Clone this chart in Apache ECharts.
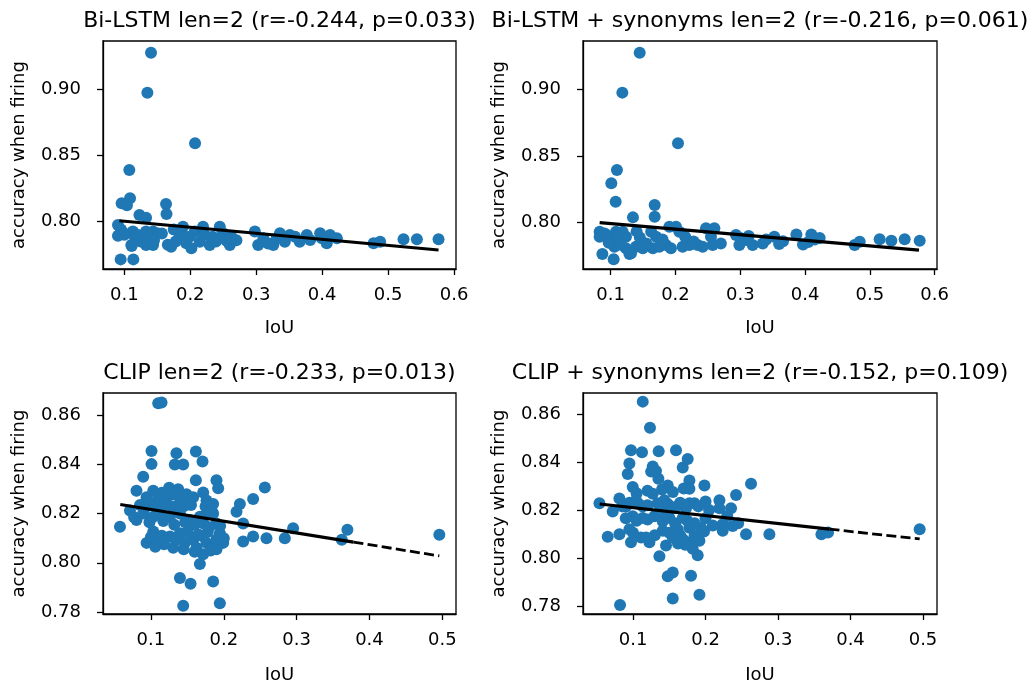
<!DOCTYPE html>
<html>
<head>
<meta charset="utf-8">
<script src="https://cdn.jsdelivr.net/npm/echarts@6/dist/echarts.min.js"></script>
<style>
html,body{margin:0;padding:0;background:#fff;}
#chart{width:1034px;height:685px;}
</style>
</head>
<body>
<div id="chart"></div>
<script>
// ---------- data ----------
const titles = [
  'Bi-LSTM len=2 (r=-0.244, p=0.033)',
  'Bi-LSTM + synonyms len=2 (r=-0.216, p=0.061)',
  'CLIP len=2 (r=-0.233, p=0.013)',
  'CLIP + synonyms len=2 (r=-0.152, p=0.109)'
];
const xName = 'IoU';
const yName = 'accuracy when firing';

const xTicksTop = [0.1, 0.2, 0.3, 0.4, 0.5, 0.6];
const yTicksTop = [0.80, 0.85, 0.90];
const xTicksBottom = [0.1, 0.2, 0.3, 0.4, 0.5];
const yTicksBottom = [0.78, 0.80, 0.82, 0.84, 0.86];

// Panel 1: Bi-LSTM
const bilstmX = [0.1405,0.135,0.2073,0.1076,0.1087,0.096,0.104,0.1633,0.164,0.123,0.133,0.0904,0.0904,0.113,0.116,0.1107,0.133,0.1436,0.133,0.1436,0.1386,0.166,0.171,0.189,0.189,0.194,0.2017,0.199,0.2068,0.2144,0.2194,0.2296,0.2448,0.2498,0.26,0.2624,0.234,0.298,0.303,0.311,0.318,0.326,0.331,0.3434,0.351,0.366,0.3768,0.3819,0.397,0.3996,0.407,0.412,0.4223,0.478,0.488,0.5234,0.5437,0.5765,0.0945,0.1137,0.1112,0.095,0.1,0.152,0.175,0.336,0.359,0.1,0.125,0.12,0.145,0.157,0.178,0.182,0.222,0.239,0.255,0.27];
const bilstmY = [0.9277,0.8973,0.859,0.8387,0.8172,0.8134,0.812,0.8129,0.8053,0.8046,0.8025,0.797,0.7888,0.792,0.788,0.7818,0.792,0.792,0.7818,0.7818,0.7869,0.782,0.7805,0.7957,0.7894,0.7831,0.7793,0.7881,0.792,0.7843,0.7957,0.7818,0.7957,0.7907,0.7818,0.7881,0.7881,0.792,0.7818,0.7869,0.783,0.7818,0.7869,0.7843,0.7894,0.7843,0.7894,0.7856,0.7907,0.7869,0.7831,0.7894,0.7869,0.7831,0.7843,0.7861,0.7861,0.7861,0.7709,0.7709,0.781,0.7935,0.7905,0.7905,0.7935,0.7907,0.788,0.7895,0.7845,0.7895,0.7855,0.7905,0.7845,0.792,0.7895,0.7845,0.785,0.7855];
const bilstmFitX = [0.0925, 0.5765];
const bilstmFitY = [0.8002, 0.7780];

// Panel 2: Bi-LSTM + synonyms
const bilstmSynX = [0.1448,0.118,0.2039,0.1097,0.101,0.1077,0.1344,0.1679,0.1679,0.083,0.083,0.0907,0.0872,0.1046,0.129,0.1005,0.1082,0.1134,0.1185,0.1236,0.1057,0.1236,0.1314,0.139,0.1496,0.1651,0.1625,0.1751,0.1853,0.1906,0.193,0.2008,0.206,0.211,0.2215,0.2343,0.242,0.2471,0.26,0.2574,0.2548,0.2934,0.2986,0.3088,0.3191,0.3346,0.3526,0.366,0.3866,0.3968,0.4097,0.4225,0.4765,0.4843,0.5151,0.5332,0.5537,0.5769,0.0928,0.1113,0.145,0.155,0.17,0.18,0.215,0.228,0.27,0.3,0.313,0.34,0.36,0.405,0.415,0.097,0.115,0.14];
const bilstmSynY = [0.9274,0.8975,0.8595,0.8395,0.8295,0.8157,0.804,0.8133,0.8045,0.7933,0.7895,0.792,0.7765,0.7726,0.7765,0.7895,0.7933,0.787,0.7933,0.7895,0.782,0.7808,0.7771,0.782,0.7808,0.7808,0.7933,0.782,0.7833,0.797,0.7808,0.797,0.7933,0.782,0.7833,0.7833,0.782,0.7958,0.7958,0.7833,0.7895,0.7908,0.7833,0.787,0.7833,0.7845,0.7895,0.7861,0.7911,0.7836,0.7911,0.7886,0.7833,0.7858,0.7876,0.7865,0.7876,0.7865,0.7908,0.7895,0.789,0.7845,0.7895,0.7875,0.7895,0.786,0.7845,0.7885,0.79,0.7875,0.784,0.7855,0.7875,0.785,0.7835,0.7935];
const bilstmSynFitX = [0.083, 0.5758];
const bilstmSynFitY = [0.8000, 0.7795];

// Panel 3: CLIP
const clipX = [0.11,0.1146,0.1008,0.1008,0.0894,0.135,0.1328,0.1443,0.1617,0.1708,0.1617,0.19,0.1923,0.2564,0.2403,0.2221,0.2175,0.0575,
  0.0802,0.094,0.1032,0.11,0.1214,0.1306,0.1374,0.1398,0.1488,0.158,0.1717,0.1763,0.1854,
  0.0712,0.0802,0.0894,0.1032,0.1124,0.1261,0.1398,0.1535,0.1672,0.1763,0.1854,0.19,
  0.094,0.1032,0.11,0.1261,0.1306,0.1398,0.1466,0.158,0.1626,0.1717,0.1763,0.1854,0.1946,0.1992,0.1717,
  0.1672,0.1398,0.1544,0.1854,0.1443,0.1946,
  0.2266,0.2266,0.2403,0.2586,0.2838,0.2952,0.362,0.3697,0.4959,
  0.085,0.097,0.107,0.118,0.128,0.135,0.145,0.155,0.175,0.182,
  0.077,0.098,0.117,0.132,0.147,0.16,0.172,0.18,0.195,
  0.1,0.115,0.135,0.15,0.165,0.178,0.19,0.2,
  0.118,0.145,0.16,0.182,0.19,0.115,0.125,0.145,0.092,0.106];
const clipY = [0.8648,0.8651,0.8454,0.8401,0.835,0.8445,0.8399,0.8399,0.8452,0.8412,0.8335,0.8335,0.8303,0.8306,0.8259,0.8239,0.8207,0.8147,
  0.8293,0.8266,0.8293,0.8266,0.8266,0.8279,0.8299,0.8246,0.8279,0.8266,0.8286,0.8253,0.8239,
  0.8213,0.8174,0.82,0.8187,0.8207,0.8187,0.82,0.8174,0.8187,0.82,0.82,0.816,
  0.8081,0.8127,0.8081,0.8107,0.8061,0.812,0.8081,0.8094,0.8061,0.8107,0.8081,0.8067,0.812,0.8081,0.8035,
  0.7995,0.7938,0.7915,0.7924,0.7826,0.7836,
  0.816,0.8087,0.8107,0.81,0.81,0.814,0.8094,0.8134,0.8114,
  0.8235,0.8245,0.823,0.8235,0.823,0.8225,0.823,0.8235,0.823,0.8215,
  0.8185,0.8165,0.817,0.8155,0.8165,0.8155,0.816,0.8145,0.815,
  0.8105,0.811,0.8095,0.8125,0.8115,0.8125,0.8095,0.81,
  0.8075,0.8055,0.8045,0.805,0.8055,0.8285,0.8305,0.827,0.8225,0.8065];
const clipFitX = [0.0579, 0.378, 0.4959];
const clipFitY = [0.8237, 0.8084, 0.8028];

// Panel 4: CLIP + synonyms
const clipSynX = [0.1134,0.1234,0.0972,0.1124,0.1354,0.1593,0.1754,0.095,0.0927,0.1272,0.1317,0.1686,0.0996,0.1479,0.1778,0.1778,0.1985,0.2628,0.2421,0.0537,
  0.072,0.0812,0.0903,0.1041,0.1134,0.1272,0.134,0.1433,0.1548,0.1731,0.1778,0.1847,0.2192,0.2192,0.2352,
  0.0996,0.1134,0.1295,0.141,0.1502,0.1686,0.1778,0.1938,0.2237,0.2375,
  0.0651,0.0812,0.095,0.0972,0.111,0.1226,0.141,0.1455,0.1548,0.1617,0.1686,0.1778,0.1916,0.2237,0.2559,0.2881,
  0.1823,0.1892,0.1364,0.1479,0.1548,0.18,0.1548,0.1916,0.0821,
  0.3599,0.369,0.4954,
  0.085,0.095,0.108,0.12,0.138,0.148,0.16,0.165,0.19,0.205,
  0.09,0.105,0.12,0.145,0.158,0.175,0.185,0.2,0.21,
  0.1,0.13,0.15,0.165,0.185,0.198,0.118,0.172,0.162,
  0.105,0.12,0.14,0.155,0.17,0.2,0.23,0.245,0.125,0.135];
const clipSynY = [0.8652,0.8543,0.8449,0.8441,0.8445,0.8449,0.8413,0.8394,0.835,0.8381,0.8363,0.8377,0.8296,0.8302,0.8323,0.8289,0.8302,0.8309,0.8262,0.8228,
  0.8194,0.8248,0.8214,0.8241,0.8214,0.8268,0.8228,0.8241,0.8207,0.8207,0.8228,0.8228,0.8241,0.8207,0.8207,
  0.8174,0.8167,0.8174,0.8153,0.8167,0.8167,0.8126,0.8126,0.814,0.8133,
  0.8088,0.8099,0.812,0.8065,0.8085,0.8065,0.8113,0.8052,0.8085,0.812,0.8079,0.8065,0.8072,0.8113,0.8099,0.8099,
  0.8038,0.8011,0.8007,0.7923,0.7939,0.7926,0.7831,0.7846,0.7804,
  0.8099,0.8106,0.812,
  0.8215,0.823,0.8225,0.822,0.821,0.8225,0.8215,0.823,0.8215,0.82,
  0.8165,0.8155,0.816,0.8185,0.8145,0.8155,0.8145,0.8165,0.8135,
  0.8105,0.8095,0.8105,0.8095,0.8095,0.811,0.8085,0.8055,0.806,
  0.827,0.828,0.8285,0.8275,0.829,0.8235,0.8175,0.8145,0.836,0.833];
const clipSynFitX = [0.054, 0.371, 0.4954];
const clipSynFitY = [0.8225, 0.8120, 0.8079];

// ---------- layout / styling ----------
const FONT = 'DejaVu Sans';
const BLUE = '#1f77b4';
const panels = [
  {title: titles[0], x: bilstmX, y: bilstmY, fx: bilstmFitX, fy: bilstmFitY, xt: xTicksTop, yt: yTicksTop,
   rect: {left: 103, top: 41, width: 353, height: 228}, xr: [0.0677, 0.603], yr: [0.7636, 0.9366], ty: 10, ng: 50},
  {title: titles[1], x: bilstmSynX, y: bilstmSynY, fx: bilstmSynFitX, fy: bilstmSynFitY, xt: xTicksTop, yt: yTicksTop,
   rect: {left: 583, top: 41, width: 354, height: 228}, xr: [0.0573, 0.6036], yr: [0.7653, 0.9362], ty: 10, ng: 50},
  {title: titles[2], x: clipX, y: clipY, fx: clipFitX, fy: clipFitY, xt: xTicksBottom, yt: yTicksBottom,
   rect: {left: 103, top: 393, width: 353, height: 226}, xr: [0.0342, 0.5188], yr: [0.7792, 0.869], ty: 362, ng: 52},
  {title: titles[3], x: clipSynX, y: clipSynY, fx: clipSynFitX, fy: clipSynFitY, xt: xTicksBottom, yt: yTicksBottom,
   rect: {left: 583, top: 393, width: 354, height: 226}, xr: [0.031, 0.5193], yr: [0.7766, 0.8688], ty: 362, ng: 52}
];

const axisColor = '#000';
const grids = [], xAxes = [], yAxes = [], series = [], titleOpts = [];
panels.forEach((p, i) => {
  grids.push(Object.assign({show: true, borderColor: axisColor, borderWidth: 1.3, backgroundColor: 'transparent'}, p.rect));
  titleOpts.push({
    text: p.title, left: p.rect.left + p.rect.width / 2, top: p.ty, textAlign: 'center', padding: 0,
    textStyle: {fontFamily: FONT, fontSize: 22, fontWeight: 'normal', color: '#000'}
  });
  xAxes.push({
    gridIndex: i, type: 'value', min: p.xr[0], max: p.xr[1],
    axisLine: {show: true, onZero: false, lineStyle: {color: axisColor, width: 1.3}},
    axisTick: {show: true, customValues: p.xt, length: 6, lineStyle: {color: axisColor, width: 1.3}},
    axisLabel: {customValues: p.xt, formatter: v => v.toFixed(1), color: '#000', fontFamily: FONT, fontSize: 18, margin: 17},
    splitLine: {show: false},
    name: xName, nameLocation: 'middle', nameGap: p.ng,
    nameTextStyle: {fontFamily: FONT, fontSize: 18, color: '#000'}
  });
  yAxes.push({
    gridIndex: i, type: 'value', min: p.yr[0], max: p.yr[1],
    axisLine: {show: true, onZero: false, lineStyle: {color: axisColor, width: 1.3}},
    axisTick: {show: true, customValues: p.yt, length: 6, lineStyle: {color: axisColor, width: 1.3}},
    axisLabel: {customValues: p.yt, formatter: v => v.toFixed(2), color: '#000', fontFamily: FONT, fontSize: 18, margin: 22},
    splitLine: {show: false},
    name: yName, nameLocation: 'middle', nameGap: 75,
    nameTextStyle: {fontFamily: FONT, fontSize: 18, color: '#000'}
  });
  series.push({
    type: 'scatter', xAxisIndex: i, yAxisIndex: i,
    data: p.x.map((v, k) => [v, p.y[k]]),
    symbol: 'circle', symbolSize: 12, itemStyle: {color: BLUE, opacity: 1}, silent: true, z: 2
  });
  const pts = p.fx.map((v, k) => [v, p.fy[k]]);
  series.push({
    type: 'line', xAxisIndex: i, yAxisIndex: i, data: pts.slice(0, 2),
    symbol: 'none', lineStyle: {color: '#000', width: 3.2}, silent: true, z: 3
  });
  if (pts.length > 2) {
    series.push({
      type: 'line', xAxisIndex: i, yAxisIndex: i, data: pts.slice(1),
      symbol: 'none', lineStyle: {color: '#000', width: 2.8, type: [10, 4.3]}, silent: true, z: 3
    });
  }
});

const chart = echarts.init(document.getElementById('chart'), null, {renderer: 'canvas'});
chart.setOption({
  animation: false,
  backgroundColor: '#fff',
  title: titleOpts,
  grid: grids,
  xAxis: xAxes,
  yAxis: yAxes,
  series: series
});
</script>
</body>
</html>
